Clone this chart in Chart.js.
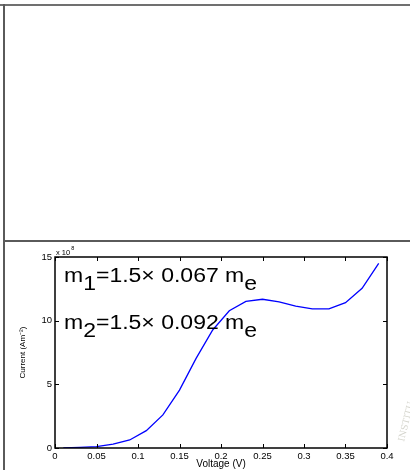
<!DOCTYPE html>
<html>
<head>
<meta charset="utf-8">
<script src="https://cdn.jsdelivr.net/npm/chart.js@4.4.1/dist/chart.umd.min.js"></script>
<style>
  html, body { margin: 0; padding: 0; background: #fff; }
  #wrap { position: relative; width: 410px; height: 470px; overflow: hidden; }
  #c { position: absolute; left: 0; top: 0; }
  .ln { position: absolute; background: #666; }
</style>
</head>
<body>
<div id="wrap">
  <canvas id="c" width="410" height="470"></canvas>
  <div class="ln" style="left:0;top:4px;width:410px;height:2px;background:#707070"></div>
  <div class="ln" style="left:3px;top:4px;width:2px;height:466px;background:#5a5a5a"></div>
  <div class="ln" style="left:3px;top:240px;width:407px;height:2px;background:#5a5a5a"></div>
</div>
<script>
// ---- data ----
const voltage = [0.01, 0.03, 0.05, 0.07, 0.09, 0.11, 0.13, 0.15, 0.17, 0.19,
                 0.21, 0.23, 0.25, 0.27, 0.29, 0.31, 0.33, 0.35, 0.37, 0.39];
const current = [0.0, 0.05, 0.1, 0.3, 0.63, 1.36, 2.6, 4.55, 7.04, 9.27,
                 10.78, 11.52, 11.68, 11.47, 11.15, 10.92, 10.92, 11.41, 12.54, 14.5];
const xTickValues = [0, 0.05, 0.1, 0.15, 0.2, 0.25, 0.3, 0.35, 0.4];
const xTickLabels = ['0', '0.05', '0.1', '0.15', '0.2', '0.25', '0.3', '0.35', '0.4'];
const yTickValues = [0, 5, 10, 15];
const yTickLabels = ['0', '5', '10', '15'];
const xTitle = 'Voltage (V)';
const yTitle = 'Current (Am\u207B\u00B2)';
const yExponent = ['x 10', '8'];
const line1 = [['m', 0], ['1', 1], ['=1.5\u00D7 0.067 m', 0], ['e', 1]];
const line2 = [['m', 0], ['2', 1], ['=1.5\u00D7 0.092 m', 0], ['e', 1]];
const watermark = 'INSTITU';

const FONT = '"Liberation Sans", Arial, Helvetica, sans-serif';

const decor = {
  id: 'decor',
  afterDatasetsDraw(chart) {
    const ctx = chart.ctx;
    const a = chart.chartArea;
    const xs = chart.scales.x, ys = chart.scales.y;
    ctx.save();
    // box
    ctx.strokeStyle = '#000';
    ctx.lineWidth = 1.5;
    ctx.strokeRect(a.left, a.top, a.right - a.left, a.bottom - a.top);
    // inward ticks
    ctx.lineWidth = 1;
    const tl = 4;
    ctx.beginPath();
    xTickValues.forEach(v => {
      const px = Math.round(xs.getPixelForValue(v)) + 0.5;
      ctx.moveTo(px, a.bottom); ctx.lineTo(px, a.bottom - tl);
      ctx.moveTo(px, a.top); ctx.lineTo(px, a.top + tl);
    });
    yTickValues.forEach(v => {
      const py = Math.round(ys.getPixelForValue(v)) + 0.5;
      ctx.moveTo(a.left, py); ctx.lineTo(a.left + tl, py);
      ctx.moveTo(a.right, py); ctx.lineTo(a.right - tl, py);
    });
    ctx.stroke();
    // exponent label
    ctx.fillStyle = '#000';
    ctx.textBaseline = 'alphabetic';
    ctx.textAlign = 'left';
    ctx.font = '7.5px ' + FONT;
    ctx.fillText(yExponent[0], a.left + 1, a.top - 2);
    const w = ctx.measureText(yExponent[0]).width;
    ctx.font = '5.5px ' + FONT;
    ctx.fillText(yExponent[1], a.left + 2 + w, a.top - 7);
    // annotations
    const drawRich = (segs, x, y) => {
      ctx.save();
      ctx.translate(x, y);
      ctx.scale(1.15, 1);
      ctx.font = '20px ' + FONT;
      let cx = 0;
      segs.forEach(([t, sub]) => {
        ctx.fillText(t, cx, sub ? 8 : 0);
        cx += ctx.measureText(t).width;
      });
      ctx.restore();
    };
    drawRich(line1, a.left + 9, a.top + 25);
    drawRich(line2, a.left + 9, a.top + 72);
    // faint watermark
    ctx.save();
    ctx.translate(404, 442);
    ctx.rotate(-1.33);
    ctx.fillStyle = 'rgba(150,150,130,0.4)';
    ctx.font = '9px "DejaVu Serif", serif';
    ctx.fillText(watermark, 0, 0);
    ctx.restore();
    ctx.restore();
  }
};

new Chart(document.getElementById('c'), {
  type: 'line',
  data: {
    datasets: [{
      data: voltage.map((v, i) => ({ x: v, y: current[i] })),
      borderColor: '#0000ff',
      borderWidth: 1.3,
      pointRadius: 0,
      tension: 0,
      fill: false
    }]
  },
  options: {
    responsive: false,
    devicePixelRatio: 1,
    animation: false,
    layout: { padding: { top: 257, right: 23, left: 0, bottom: 0 } },
    plugins: { legend: { display: false }, tooltip: { enabled: false } },
    scales: {
      x: {
        type: 'linear', min: 0, max: 0.4,
        afterBuildTicks: s => { s.ticks = xTickValues.map(v => ({ value: v })); },
        afterFit: s => { s.height = 22; },
        grid: { display: false, drawTicks: false },
        border: { display: false },
        ticks: {
          padding: 3, color: '#000', maxRotation: 0, autoSkip: false,
          font: { family: FONT, size: 9.5 },
          callback: (v, i) => xTickLabels[i]
        },
        title: { display: true, text: xTitle, color: '#000',
                 font: { family: FONT, size: 10 }, padding: { top: 0, bottom: 0 } }
      },
      y: {
        type: 'linear', min: 0, max: 15,
        afterBuildTicks: s => { s.ticks = yTickValues.map(v => ({ value: v })); },
        afterFit: s => { s.width = 55; },
        grid: { display: false, drawTicks: false },
        border: { display: false },
        ticks: {
          padding: 3, color: '#000', autoSkip: false,
          font: { family: FONT, size: 9.5 },
          callback: (v, i) => yTickLabels[i]
        },
        title: { display: true, text: yTitle, color: '#000',
                 font: { family: FONT, size: 8 }, padding: { top: 18, bottom: 0 } }
      }
    }
  },
  plugins: [decor]
});
</script>
</body>
</html>
